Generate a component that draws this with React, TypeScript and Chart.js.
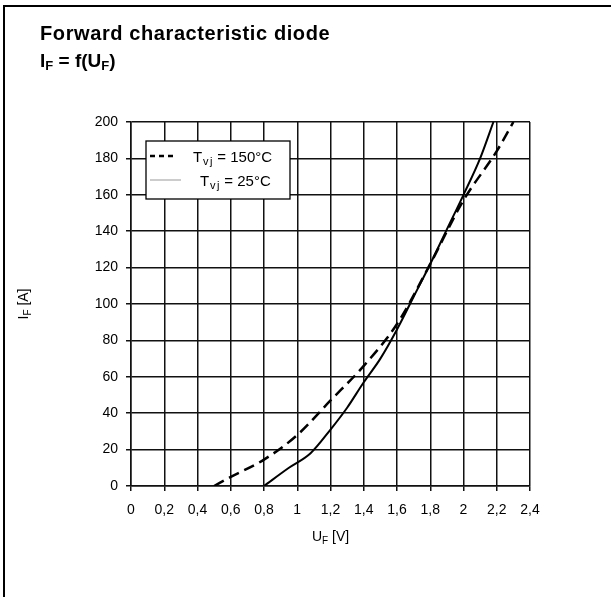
import React, { useEffect, useRef } from 'react';
import { Chart, registerables } from 'chart.js';

Chart.register(...registerables);

const xTicks = [0, 0.2, 0.4, 0.6, 0.8, 1, 1.2, 1.4, 1.6, 1.8, 2, 2.2, 2.4];
const xTickLabels = ['0', '0,2', '0,4', '0,6', '0,8', '1', '1,2', '1,4', '1,6', '1,8', '2', '2,2', '2,4'];
const yTicks = [0, 20, 40, 60, 80, 100, 120, 140, 160, 180, 200];
const yTickLabels = ['0', '20', '40', '60', '80', '100', '120', '140', '160', '180', '200'];

// Tvj = 150°C (dashed)
const hotV = [0.5, 0.6, 0.8, 1.0, 1.2, 1.4, 1.6, 1.8, 2.0, 2.2, 2.3];
const hotI = [0, 5, 14.5, 28, 47, 66, 89, 122, 157, 184, 200];
// Tvj = 25°C (solid)
const coldV = [0.8, 0.95, 1.08, 1.2, 1.3, 1.4, 1.5, 1.6, 1.7, 1.8, 1.9, 2.0, 2.1, 2.18];
const coldI = [0, 10, 18, 31, 43, 57, 70, 86, 104, 122, 141, 160, 180, 200];

const legendLabels = [
  ['T', 'vj', ' = 150°C'],
  ['T', 'vj', ' = 25°C'],
];
const xTitle = ['U', 'F', ' [V]'];
const yTitle = ['I', 'F', ' [A]'];

const FONT = '"Liberation Sans", Arial, sans-serif';

function drawSub(ctx: CanvasRenderingContext2D, parts: string[], x: number, y: number, size: number, align: 'left' | 'center', subSpacing = 0) {
  const subSize = Math.round(size * 0.72);
  ctx.save();
  ctx.textBaseline = 'alphabetic';
  ctx.textAlign = 'left';
  ctx.font = `${size}px ${FONT}`;
  const w0 = ctx.measureText(parts[0]).width;
  const w2 = ctx.measureText(parts[2]).width;
  ctx.font = `${subSize}px ${FONT}`;
  const chars = parts[1].split('');
  const cw = chars.map((c) => ctx.measureText(c).width);
  const w1 = cw.reduce((s, v) => s + v, 0) + subSpacing * chars.length;
  const total = w0 + w1 + w2;
  let cx = align === 'center' ? x - total / 2 : x;
  ctx.font = `${size}px ${FONT}`;
  ctx.fillText(parts[0], cx, y);
  cx += w0;
  ctx.font = `${subSize}px ${FONT}`;
  chars.forEach((c, i) => {
    ctx.fillText(c, cx + subSpacing / 2, y + size * 0.22);
    cx += cw[i] + subSpacing;
  });
  ctx.font = `${size}px ${FONT}`;
  ctx.fillText(parts[2], cx, y);
  ctx.restore();
}

const customPlugin = {
  id: 'custom',
  afterDraw(chart: any) {
    const ctx: CanvasRenderingContext2D = chart.ctx;
    const a = chart.chartArea;
    ctx.fillStyle = '#000';
    // axis titles
    drawSub(ctx, xTitle, (a.left + a.right) / 2, a.bottom + 55, 14, 'center');
    ctx.save();
    ctx.translate(a.left - 103, (a.top + a.bottom) / 2);
    ctx.rotate(-Math.PI / 2);
    drawSub(ctx, yTitle, 0, 0, 14, 'center');
    ctx.restore();
    // legend
    const lx = a.left + 15;
    const ly = a.top + 19;
    ctx.save();
    ctx.fillStyle = '#fff';
    ctx.fillRect(lx, ly, 144, 58);
    ctx.strokeStyle = '#000';
    ctx.lineWidth = 1.3;
    ctx.strokeRect(lx, ly, 144, 58);
    ctx.beginPath();
    ctx.setLineDash([5, 4]);
    ctx.lineWidth = 2.5;
    ctx.moveTo(lx + 4, ly + 15);
    ctx.lineTo(lx + 30, ly + 15);
    ctx.stroke();
    ctx.setLineDash([]);
    ctx.beginPath();
    ctx.strokeStyle = '#999';
    ctx.lineWidth = 1;
    ctx.moveTo(lx + 4, ly + 39);
    ctx.lineTo(lx + 35, ly + 39);
    ctx.stroke();
    ctx.restore();
    ctx.fillStyle = '#000';
    drawSub(ctx, legendLabels[0], lx + 47, ly + 21, 15, 'left', 1.5);
    drawSub(ctx, legendLabels[1], lx + 54, ly + 45, 15, 'left', 1.5);
  },
};

export default function App() {
  const ref = useRef<HTMLCanvasElement>(null);
  useEffect(() => {
    const canvas = ref.current!;
    const chart = new Chart(canvas, {
      type: 'line',
      data: {
        datasets: [
          {
            label: 'Tvj = 150°C',
            data: hotV.map((v, i) => ({ x: v, y: hotI[i] })),
            borderColor: '#000',
            borderWidth: 2.5,
            borderDash: [11, 6],
            pointRadius: 0,
            cubicInterpolationMode: 'monotone',
            fill: false,
          },
          {
            label: 'Tvj = 25°C',
            data: coldV.map((v, i) => ({ x: v, y: coldI[i] })),
            borderColor: '#000',
            borderWidth: 2,
            pointRadius: 0,
            cubicInterpolationMode: 'monotone',
            fill: false,
          },
        ],
      },
      options: {
        animation: false,
        responsive: false,
        devicePixelRatio: 1,
        layout: { padding: { top: 122, right: 81, bottom: 0, left: 0 } },
        plugins: { legend: { display: false }, tooltip: { enabled: false }, title: { display: false } },
        scales: {
          x: {
            type: 'linear',
            min: 0,
            max: 2.4,
            afterBuildTicks: (s: any) => { s.ticks = xTicks.map((v) => ({ value: v })); },
            afterFit: (s: any) => { s.height = 111; },
            ticks: {
              callback: (_v: any, i: number) => xTickLabels[i],
              color: '#000',
              font: { family: FONT, size: 14 },
              padding: 11,
              maxRotation: 0,
              autoSkip: false,
            },
            grid: { color: '#111', lineWidth: 1.5, tickLength: 5, tickColor: '#111' },
            border: { color: '#111', width: 1.5 },
          },
          y: {
            type: 'linear',
            min: 0,
            max: 200,
            afterBuildTicks: (s: any) => { s.ticks = yTicks.map((v) => ({ value: v })); },
            afterFit: (s: any) => { s.width = 131; },
            ticks: {
              callback: (_v: any, i: number) => yTickLabels[i],
              color: '#000',
              font: { family: FONT, size: 14 },
              padding: 8,
              autoSkip: false,
            },
            grid: { color: '#111', lineWidth: 1.5, tickLength: 5, tickColor: '#111' },
            border: { color: '#111', width: 1.5 },
          },
        },
      },
      plugins: [customPlugin],
    } as any);
    return () => chart.destroy();
  }, []);

  return (
    <div style={{ position: 'absolute', left: 0, top: 0, width: 611, height: 597, background: '#fff', overflow: 'hidden' }}>
      <div style={{ position: 'absolute', left: 3, top: 5, width: 608, height: 592, borderTop: '2px solid #000', borderLeft: '2px solid #000', boxSizing: 'border-box' }} />
      <canvas ref={ref} width={611} height={597} style={{ position: 'absolute', left: 0, top: 0, width: 611, height: 597 }} />
      <div style={{ position: 'absolute', left: 40, top: 22, fontFamily: FONT, fontWeight: 'bold', fontSize: 20, lineHeight: '22px', letterSpacing: '0.6px', color: '#000', whiteSpace: 'nowrap' }}>
        Forward characteristic diode
      </div>
      <div style={{ position: 'absolute', left: 40, top: 50, fontFamily: FONT, fontWeight: 'bold', fontSize: 19, lineHeight: '22px', color: '#000', whiteSpace: 'nowrap' }}>
        I<sub style={{ fontSize: 13, verticalAlign: '-3px' }}>F</sub> = f(U<sub style={{ fontSize: 13, verticalAlign: '-3px' }}>F</sub>)
      </div>
    </div>
  );
}
